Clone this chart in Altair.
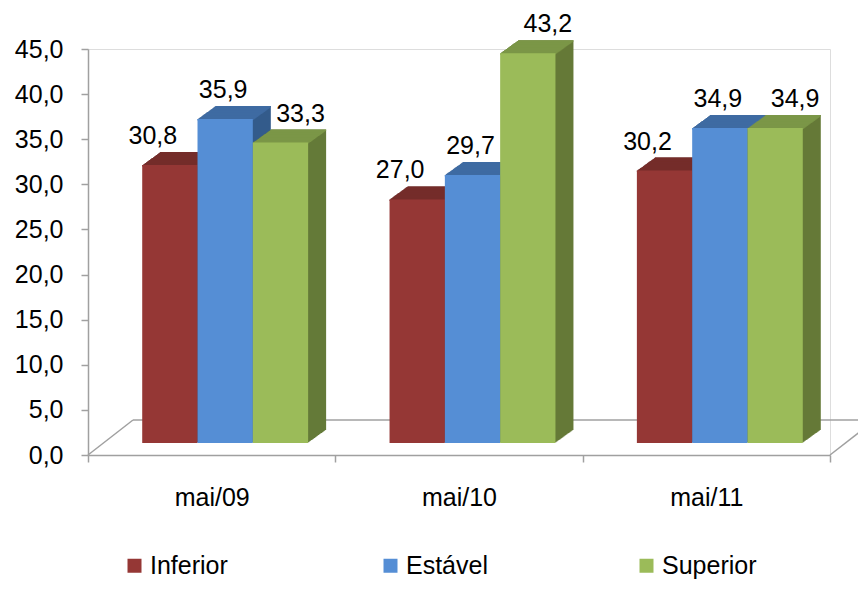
import altair as alt
import pandas as pd

# ---- data ----
categories = ["mai/09", "mai/10", "mai/11"]
series = ["Inferior", "Estável", "Superior"]
inferior = [30.8, 27.0, 30.2]
estavel = [35.9, 29.7, 34.9]
superior = [33.3, 43.2, 34.9]
y_ticks = [0, 5, 10, 15, 20, 25, 30, 35, 40, 45]

# ---- styles ----
front_colors = ["#953735", "#558ED5", "#9BBB59"]
top_colors = ["#742C2A", "#3F6BA2", "#7B9647"]
side_colors = ["#652624", "#345B8B", "#657A38"]
GRAY = "#A0A0A0"
FONT = "Liberation Sans"
FS = 25

BAR_W = 0.2236          # bar width in category units
DX0, DY0 = 13.5, -12    # shift of the bar fronts from the floor's front edge (px)
DEPTH = 18              # bar depth (px, along x)
DEPTH_RATIO = -13 / 18  # y change per px of depth
FLOOR_DX, FLOOR_DY = 45, -35
LABEL_DX = [-17, -2, 20]
LABEL_DY = -21

rows = []
for ci, cat in enumerate(categories):
    for si, vals in enumerate([inferior, estavel, superior]):
        rows.append(dict(cat=cat, series=series[si], value=vals[ci], ci=ci, si=si))
df = pd.DataFrame(rows)

xscale = alt.Scale(domain=[0, len(categories)], nice=False, zero=False)
yscale = alt.Scale(domain=[0, 45], nice=False, zero=True)


def color_expr(colors):
    return (f"datum.si == 0 ? '{colors[0]}' : datum.si == 1 ? '{colors[1]}' : '{colors[2]}'")


cat_js = "[" + ",".join(f"'{c}'" for c in categories) + "]"
x_axis = alt.Axis(
    values=[i * 0.5 for i in range(2 * len(categories) + 1)],
    title=None, grid=False,
    domainColor=GRAY, domainWidth=1.5,
    tickColor=GRAY, tickWidth=1.5, tickSize=7,
    tickOpacity={"condition": {"test": "datum.value % 1 === 0", "value": 1}, "value": 0},
    labelExpr=f"datum.value % 1 === 0 ? '' : {cat_js}[floor(datum.value)]",
    labelFont=FONT, labelFontSize=FS, labelColor="black", labelPadding=23,
    labelOverlap=False, labelFlush=False, labelBound=False,
)
y_axis = alt.Axis(
    values=y_ticks, title=None, grid=False,
    domainColor=GRAY, domainWidth=1.5,
    tickColor=GRAY, tickWidth=1.5, tickSize=7,
    labelExpr="replace(format(datum.value, '.1f'), '.', ',')",
    labelFont=FONT, labelFontSize=FS, labelColor="black", labelPadding=18,
)

XF = lambda f: alt.X(f, scale=xscale, axis=x_axis)
YF = lambda f: alt.Y(f, scale=yscale, axis=y_axis, stack=None)

layers = []

# ---- floor (drawn behind the bars) ----
floor_df = pd.DataFrame({"z": [0]})
fx = lambda v: alt.X(datum=v, type="quantitative", scale=xscale, axis=x_axis)
fy = lambda v: alt.Y(datum=v, type="quantitative", scale=yscale, axis=y_axis)
layers.append(
    alt.Chart(floor_df).mark_rule(color=GRAY, strokeWidth=1.5,
                                  xOffset=FLOOR_DX, x2Offset=FLOOR_DX,
                                  yOffset=FLOOR_DY)
    .encode(x=fx(0), x2=alt.X2(datum=len(categories)), y=fy(0))
)
for v in [0, len(categories)]:
    layers.append(
        alt.Chart(floor_df).mark_rule(color=GRAY, strokeWidth=1.5,
                                      x2Offset=FLOOR_DX, y2Offset=FLOOR_DY)
        .encode(x=fx(v), x2=alt.X2(datum=v), y=fy(0), y2=alt.Y2(datum=0))
    )

# ---- extrusion (side faces) ----
for k in range(DEPTH, 0, -1):
    dy = DY0 + DEPTH_RATIO * k
    layers.append(
        alt.Chart().mark_bar(opacity=1, xOffset=DX0 + k, x2Offset=DX0 + k,
                             yOffset=dy, y2Offset=dy)
        .encode(x=XF("x0:Q"), x2="x1:Q", y=YF("value:Q"), y2=alt.Y2(datum=0),
                fill=alt.Fill("side_c:N", scale=None))
    )

# ---- top faces ----
for k in range(DEPTH, -1, -1):
    dy = DY0 + DEPTH_RATIO * k
    layers.append(
        alt.Chart().mark_bar(opacity=1, xOffset=DX0 + k, x2Offset=DX0 + k,
                             yOffset=dy, y2Offset=dy + 1.5)
        .encode(x=XF("x0:Q"), x2="x1:Q", y=YF("value:Q"), y2="value:Q",
                fill=alt.Fill("top_c:N", scale=None))
    )

# ---- front faces (with legend) ----
layers.append(
    alt.Chart().mark_bar(opacity=1, xOffset=DX0, x2Offset=DX0, yOffset=DY0, y2Offset=DY0)
    .encode(
        x=XF("x0:Q"),
        x2="x1:Q",
        y=YF("value:Q"),
        y2=alt.Y2(datum=0),
        color=alt.Color(
            "series:N", sort=series,
            scale=alt.Scale(domain=series, range=front_colors),
            legend=alt.Legend(
                title=None, orient="none", legendX=34, legendY=504,
                direction="horizontal", columns=3, gridAlign="all",
                columnPadding=133, symbolType="square", symbolSize=196,
                symbolStrokeWidth=0, symbolOpacity=1, labelFont=FONT,
                labelFontSize=FS, labelColor="black", labelOffset=3,
                labelLimit=400, padding=0,
            ),
        ),
    )
)

# ---- value labels ----
for si in range(len(series)):
    layers.append(
        alt.Chart().transform_filter(f"datum.si == {si}")
        .mark_text(font=FONT, fontSize=FS, color="black", baseline="alphabetic",
                   align="center", dx=DX0 + LABEL_DX[si], dy=DY0 + LABEL_DY)
        .encode(x=XF("xc:Q"), y=YF("value:Q"), text="label:N")
    )

chart = (
    alt.layer(*layers, data=df)
    .transform_calculate(
        x0=f"datum.ci + 0.5 + (datum.si - 1.5) * {BAR_W}",
        x1=f"datum.ci + 0.5 + (datum.si - 0.5) * {BAR_W}",
        xc=f"datum.ci + 0.5 + (datum.si - 1) * {BAR_W}",
        side_c=color_expr(side_colors),
        top_c=color_expr(top_colors),
        label="replace(format(datum.value, '.1f'), '.', ',')",
    )
    .properties(width=742, height=406, autosize="none",
                padding={"left": 80, "top": 41, "right": 28, "bottom": 127})
    .configure_view(strokeWidth=0, stroke="transparent")
    .configure(background="white")
)

chart.save("out.html", embed_options={"renderer": "svg", "actions": False})
